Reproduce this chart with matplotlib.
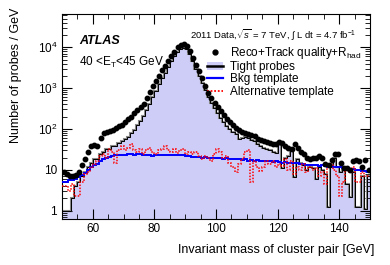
import numpy as np
import matplotlib.pyplot as plt
from matplotlib.lines import Line2D
from matplotlib.patches import Patch
from matplotlib.ticker import MultipleLocator, FixedLocator, NullFormatter

plt.rcParams['font.family'] = ['Liberation Sans', 'DejaVu Sans']
plt.rcParams['mathtext.fontset'] = 'custom'
plt.rcParams['mathtext.rm'] = 'Liberation Sans'
plt.rcParams['mathtext.it'] = 'Liberation Sans:italic'

# bin edges 50..150 GeV, 1 GeV bins
edges = np.arange(50, 151, 1)

# Reco+Track quality+R_had (points)
data = [9, 8, 7, 7, 7.5, 9, 13, 18, 28, 38,
        40, 38, 60, 78, 82, 88, 95, 105, 115, 125,
        150, 180, 200, 240, 290, 340, 420, 560, 800, 1100,
        1500, 2000, 2700, 3500, 4500, 6000, 7800, 10000, 11500, 12000,
        10800, 8000, 5500, 3700, 2600, 1800, 1100, 750, 560, 440,
        350, 280, 220, 180, 150, 125, 108, 93, 86, 80,
        76, 72, 66, 58, 54, 52, 48, 45, 43, 44,
        47, 45, 39, 34, 32, 43, 34, 27, 24, 20,
        18, 19, 20, 22, 20, 14, 13, 17, 24, 24,
        15, 11, 11, 10, 16, 17, 16, 12, 17, 10]

# Tight probes (filled histogram)
tight = [1.0, 1.0, 1.0, 2, 4, 5, 7, 9, 12, 15,
         18, 18, 24, 27, 32, 32, 38, 38, 45, 50,
         58, 65, 80, 95, 125, 160, 210, 290, 420, 600,
         850, 1250, 1750, 2400, 3300, 4500, 6000, 7600, 9000, 9600,
         9000, 6800, 4600, 3000, 2000, 1350, 900, 600, 430, 320,
         240, 190, 150, 120, 100, 85, 75, 57, 60, 62,
         60, 55, 50, 42, 38, 35, 32, 30, 27, 26,
         45, 11, 20, 22, 30, 6.5, 18, 15, 13, 10,
         12, 11, 5.8, 12, 10, 8, 1.2, 12, 20, 12,
         9, 10, 4.4, 2.2, 9, 1.2, 1.2, 7, 1.1, 7]

# Bkg template
bkg = [5, 5, 5.5, 5.5, 6, 6.5, 7.5, 8.5, 10, 11.5,
       13, 14, 16, 18, 20, 21, 22, 22.5, 23, 23.5,
       23.5, 24, 24.5, 23.5, 24, 24.5, 23.5, 23, 22.5, 22,
       22.5, 23, 22.5, 23, 23.5, 23.5, 22.5, 23, 23.5, 22.5,
       22, 22, 21, 21, 20.5, 20, 20.5, 19.5, 19.5, 19,
       19.5, 19, 18.5, 19, 18.5, 18.5, 18, 18.5, 17.5, 18,
       16.5, 17.5, 16.5, 17, 16.5, 16, 16.5, 16, 15.5, 16,
       15.5, 15, 15.5, 14.5, 15, 14.5, 14.5, 14, 14, 13.5,
       13.5, 13, 13, 12.5, 13, 12.5, 12, 12.5, 11.5, 12,
       11.5, 11, 11, 10.5, 10.5, 10, 10, 9.5, 9.5, 9]

# Alternative template
alt = [4, 4, 3, 4.5, 2.3, 2.3, 5, 8, 9, 12,
       14, 16, 22, 24, 20, 32, 28, 15, 30, 38,
       30, 35, 42, 30, 28, 33, 25, 30, 35, 27,
       24, 30, 33, 38, 30, 27, 32, 26, 30, 32,
       25, 28, 24, 27, 22, 18, 22, 20, 16, 24,
       32, 28, 20, 22, 15, 12, 9, 14, 18, 27,
       30, 4.9, 16, 12, 9.3, 12, 16.5, 14, 16, 12,
       14, 12.4, 18, 10, 16, 8, 12, 10, 14, 9,
       12, 10, 11, 7, 9, 4.4, 12, 14, 10, 7,
       2.3, 5, 11, 9, 12, 4.9, 5, 9, 7, 7]

centers = 0.5 * (edges[:-1] + edges[1:])

fig = plt.figure(figsize=(3.9, 2.65), dpi=100)
ax = fig.add_axes([0.159, 0.174, 0.79, 0.773])

lav = '#cdcdf7'
ax.stairs(tight, edges, fill=True, baseline=1e-3, color=lav, zorder=1)
ax.stairs(tight, edges, baseline=None, color='#888888', lw=1.5, zorder=2)
ax.stairs(tight, edges, baseline=None, color='black', lw=0.7, zorder=3)
ax.stairs(bkg, edges, baseline=None, color='#0000ff', lw=1.4, zorder=4)
ax.stairs(alt, edges, baseline=None, color='#ff0000', lw=1.1, ls=(0, (1, 1)), zorder=5)
ax.plot(centers, data, 'o', color='black', ms=3.2, zorder=6)

ax.set_yscale('log')
ax.set_xlim(50, 150)
ax.set_ylim(0.63, 6.5e4)

ax.xaxis.set_major_locator(MultipleLocator(20))
ax.xaxis.set_minor_locator(MultipleLocator(5))
ax.yaxis.set_major_locator(FixedLocator([1, 10, 100, 1000, 10000]))
ax.set_yticklabels(['1', '10', '$10^2$', '$10^3$', '$10^4$'])
ax.yaxis.set_minor_formatter(NullFormatter())
ax.tick_params(which='both', direction='in', top=True, right=True, labelsize=8.5)
ax.tick_params(which='major', length=7, width=0.8)
ax.tick_params(which='minor', length=3.5, width=0.6)
ax.tick_params(axis='x', pad=3)

ax.set_xlabel('Invariant mass of cluster pair [GeV]', fontsize=9, loc='right')
ax.xaxis.set_label_coords(1.015, -0.125)
ax.set_ylabel('Number of probes / GeV', fontsize=9, loc='top')
ax.yaxis.set_label_coords(-0.13, 1.03)

ax.text(0.055, 0.855, 'ATLAS', transform=ax.transAxes, fontsize=9,
        fontweight='bold', fontstyle='italic')
ax.text(0.055, 0.745, '40 <E$_\\mathrm{T}$<45 GeV', transform=ax.transAxes, fontsize=8.5)
ax.text(0.955, 0.88, '2011 Data,$\\sqrt{s}$ = 7 TeV, $\\int$ L dt = 4.7 fb$^{-1}$',
        transform=ax.transAxes, fontsize=6.8, ha='right')

handles = [Line2D([], [], marker='o', ls='none', color='black', ms=3.5),
           (Patch(facecolor=lav, edgecolor='none'), Line2D([], [], color='black', lw=1.8)),
           Line2D([], [], color='#0000ff', lw=1.6),
           Line2D([], [], color='#ff0000', lw=1.3, ls=(0, (1, 1)))]
labels = ['Reco+Track quality+R$_\\mathrm{had}$', 'Tight probes', 'Bkg template',
          'Alternative template']
ax.legend(handles, labels, loc='upper right', bbox_to_anchor=(0.995, 0.885), frameon=False,
          fontsize=8.5, handlelength=1.3, handletextpad=0.6, labelspacing=0.03,
          borderaxespad=0.2)

fig.savefig('out.png', dpi=100)
